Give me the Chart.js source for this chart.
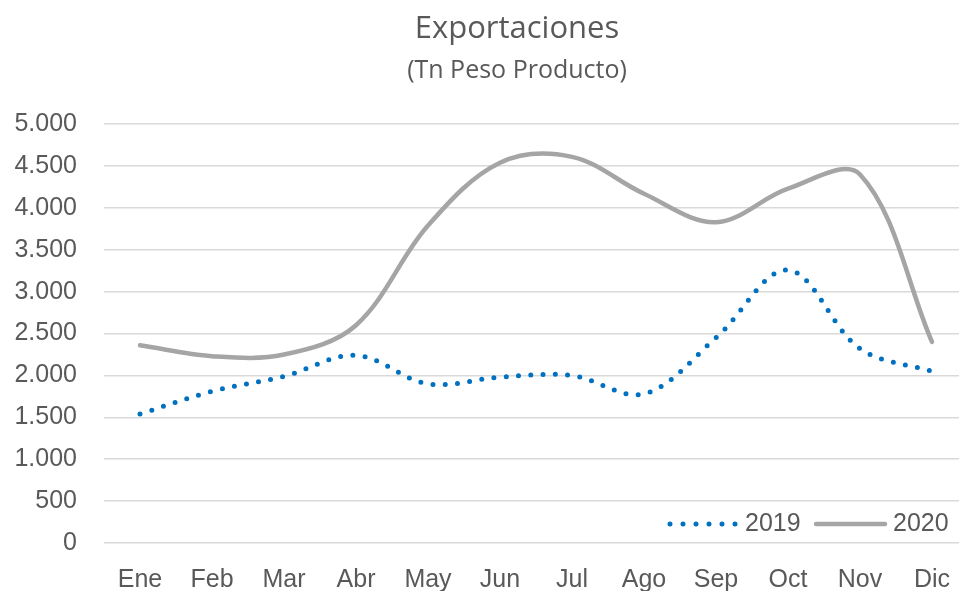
<!DOCTYPE html>
<html>
<head>
<meta charset="utf-8">
<script src="https://cdn.jsdelivr.net/npm/chart.js@4.4.0/dist/chart.umd.min.js"></script>
<style>
  html, body { margin: 0; padding: 0; background: #fff; overflow: hidden; }
  #wrap { width: 959px; height: 591px; overflow: hidden; }
</style>
</head>
<body>
<div id="wrap">
  <canvas id="myChart" width="1034" height="591"></canvas>
</div>
<script>
// data
const months = ['Ene', 'Feb', 'Mar', 'Abr', 'May', 'Jun', 'Jul', 'Ago', 'Sep', 'Oct', 'Nov', 'Dic'];
const exports_2019 = [1540, 1810, 1990, 2240, 1900, 1980, 2000, 1780, 2450, 3260, 2320, 2050];
const exports_2020 = [2360, 2230, 2250, 2600, 3790, 4540, 4610, 4170, 3830, 4230, 4400, 2400];
const y_ticks = [0, 500, 1000, 1500, 2000, 2500, 3000, 3500, 4000, 4500, 5000];

const gray_text = '#595959';
const axis_font = { family: 'Liberation Sans', size: 25 };

function formatThousands(value) {
    return String(value).replace(/\B(?=(\d{3})+(?!\d))/g, '.');
}

// the original centers the title a bit to the right of the label column
const shiftTitles = {
    id: 'shiftTitles',
    afterLayout(chart) {
        chart.boxes.forEach(b => {
            if (b.options && typeof b.options.text === 'string') {
                b.left = 66;
            }
        });
    }
};

// legend drawn inside the plot area, bottom right, like the original
const insideLegend = {
    id: 'insideLegend',
    afterDraw(chart) {
        const ctx = chart.ctx;
        const area = chart.chartArea;
        const y = area.bottom - 19;
        ctx.save();
        ctx.font = '25px "Liberation Sans"';
        ctx.fillStyle = gray_text;
        ctx.textBaseline = 'middle';
        ctx.textAlign = 'left';

        // 2019 dotted
        ctx.beginPath();
        ctx.setLineDash([0, 13]);
        ctx.lineCap = 'round';
        ctx.lineWidth = 5;
        ctx.strokeStyle = '#0070C0';
        ctx.moveTo(area.right - 298, y);
        ctx.lineTo(area.right - 231, y);
        ctx.stroke();
        ctx.fillText('2019', area.right - 223, y);

        // 2020 solid
        ctx.beginPath();
        ctx.setLineDash([]);
        ctx.lineWidth = 4.5;
        ctx.strokeStyle = '#A5A5A5';
        ctx.moveTo(area.right - 152, y);
        ctx.lineTo(area.right - 83, y);
        ctx.stroke();
        ctx.fillText('2020', area.right - 75, y);
        ctx.restore();
    }
};

const ctx = document.getElementById('myChart').getContext('2d');
const myChart = new Chart(ctx, {
    type: 'line',
    data: {
        labels: months,
        datasets: [{
            label: '2019',
            data: exports_2019,
            borderColor: '#0070C0',
            borderWidth: 5,
            borderDash: [0, 12.3],
            borderCapStyle: 'round',
            pointRadius: 0,
            tension: 0.35,
            fill: false
        }, {
            label: '2020',
            data: exports_2020,
            borderColor: '#A5A5A5',
            borderWidth: 4.5,
            borderCapStyle: 'round',
            pointRadius: 0,
            tension: 0.35,
            fill: false
        }]
    },
    options: {
        responsive: false,
        animation: false,
        devicePixelRatio: 1,
        layout: { padding: { left: 14, right: 66, top: 0, bottom: 0 } },
        plugins: {
            legend: { display: false },
            tooltip: { enabled: false },
            title: {
                display: true,
                text: 'Exportaciones',
                color: gray_text,
                font: { family: 'Open Sans', size: 31, weight: 'normal' },
                padding: { top: 11, bottom: 8 }
            },
            subtitle: {
                display: true,
                text: '(Tn Peso Producto)',
                color: gray_text,
                font: { family: 'Open Sans', size: 25, weight: 'normal' },
                padding: { top: 0, bottom: 38 }
            }
        },
        scales: {
            x: {
                offset: true,
                grid: { display: false, drawTicks: false },
                border: { display: false },
                ticks: { color: gray_text, font: axis_font, padding: 22, maxRotation: 0 },
                afterFit(axis) { axis.height = 48; }
            },
            y: {
                min: 0,
                max: 5000,
                afterBuildTicks(axis) {
                    axis.ticks = y_ticks.map(v => ({ value: v }));
                },
                grid: { color: '#D9D9D9', lineWidth: 1.5, drawTicks: false },
                border: { display: false },
                ticks: {
                    color: gray_text,
                    font: axis_font,
                    padding: 27,
                    callback: value => formatThousands(value)
                },
                afterFit(axis) { axis.width = 90; }
            }
        }
    },
    plugins: [shiftTitles, insideLegend]
});
</script>
</body>
</html>
